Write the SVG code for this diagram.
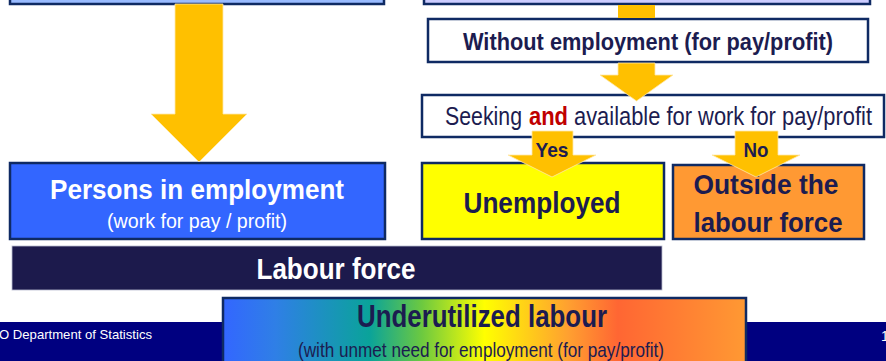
<svg xmlns="http://www.w3.org/2000/svg" width="886" height="361" viewBox="0 0 886 361">
<style>
.box{stroke:#0f2a63;stroke-width:2.5}
.t{font-family:"Liberation Sans",Arial,sans-serif;text-anchor:middle}
.s{font-family:"Liberation Sans",Arial,sans-serif;text-anchor:start}
.b{font-weight:bold}
.dk{fill:#1c1c50}
.wh{fill:#ffffff}
.arr{fill:#ffc000;stroke:#ffe9a8;stroke-width:0.8}
</style>
<defs>
<linearGradient id="rainbow" x1="0" y1="0" x2="1" y2="0">
<stop offset="0" stop-color="#3366ff"/>
<stop offset="0.1" stop-color="#2f7fe6"/>
<stop offset="0.28" stop-color="#0aa39a"/>
<stop offset="0.38" stop-color="#6cc940"/>
<stop offset="0.5" stop-color="#ffff00"/>
<stop offset="0.66" stop-color="#ffa030"/>
<stop offset="0.755" stop-color="#ff6633"/>
<stop offset="1" stop-color="#ff9933"/>
</linearGradient>
</defs>
<rect width="886" height="361" fill="#ffffff"/>
<g id="top-left"><rect class="box" x="10" y="-20" width="374" height="24" fill="#99bbff"/></g>
<g id="top-right"><rect class="box" x="424" y="-20" width="446" height="24" fill="#ccccff"/></g>
<g id="without"><rect class="box" x="428" y="19" width="440" height="43" fill="#ffffff"/>
<text class="t b dk" x="648" y="50" font-size="24.5" textLength="370" lengthAdjust="spacingAndGlyphs">Without employment (for pay/profit)</text></g>
<g id="seeking"><rect class="box" x="422" y="95" width="462" height="42" fill="#ffffff"/>
<g transform="translate(0,125) scale(1,1.19)">
<text class="s dk" x="445" y="0" font-size="21" textLength="77" lengthAdjust="spacingAndGlyphs">Seeking</text>
<text class="s b" x="529" y="0" font-size="21" fill="#c00000" textLength="39" lengthAdjust="spacingAndGlyphs">and</text>
<text class="s dk" x="574" y="0" font-size="21" textLength="298" lengthAdjust="spacingAndGlyphs">available for work for pay/profit</text>
</g></g>
<g id="unemployed"><rect class="box" x="422" y="163" width="242" height="76" fill="#ffff00"/>
<text class="t b dk" x="542" y="213" font-size="30" textLength="157" lengthAdjust="spacingAndGlyphs">Unemployed</text></g>
<g id="outside"><rect class="box" x="673" y="165" width="191" height="74" fill="#ff9933"/>
<text class="t b dk" x="766" y="194" font-size="28" textLength="145" lengthAdjust="spacingAndGlyphs">Outside the</text>
<text class="t b dk" x="768" y="232" font-size="28" textLength="149" lengthAdjust="spacingAndGlyphs">labour force</text></g>
<g id="employed"><rect class="box" x="10" y="163" width="375" height="76" fill="#3366ff"/>
<text class="t b wh" x="197" y="199" font-size="28" textLength="294" lengthAdjust="spacingAndGlyphs">Persons in employment</text>
<text class="t wh" x="197" y="228" font-size="20" textLength="180" lengthAdjust="spacingAndGlyphs">(work for pay / profit)</text></g>
<g id="labour-force"><rect x="12" y="246" width="650" height="44" fill="#1c1a4c" stroke="#b8bccf" stroke-width="0.8"/>
<text class="t b wh" x="336" y="279" font-size="29" textLength="159" lengthAdjust="spacingAndGlyphs">Labour force</text></g>
<g id="footer"><rect x="0" y="322" width="886" height="39" fill="#000080"/>
<text x="-1" y="339" font-family="Liberation Sans,Arial,sans-serif" font-size="13" fill="#ffffff" textLength="153" lengthAdjust="spacingAndGlyphs">O Department of Statistics</text>
<text x="881" y="341" font-family="Liberation Sans,Arial,sans-serif" font-size="14" fill="#ffffff">1</text></g>
<g id="underutilized"><rect class="box" x="223" y="298" width="523" height="70" fill="url(#rainbow)"/>
<text class="t b dk" x="482" y="327" font-size="31" textLength="250" lengthAdjust="spacingAndGlyphs">Underutilized labour</text>
<text class="t dk" x="481" y="357" font-size="21" textLength="366" lengthAdjust="spacingAndGlyphs">(with unmet need for employment (for pay/profit)</text></g>
<g id="connectors">
<polygon class="arr" points="175,4 223,4 223,114 247,114 199,162 151,114 175,114"/>
<rect x="618" y="5" width="37" height="13" fill="#ffc000"/>
<polygon class="arr" points="618,63 655,63 655,75 673,75 636.5,101 600,75 618,75"/>
<polygon class="arr" points="532,131 573,131 573,155 596,155 552,177 508,155 532,155"/>
<polygon class="arr" points="735,131 778,131 778,155 800,155 756,177 712,155 735,155"/>
<text class="t b dk" x="552" y="157" font-size="21" textLength="33" lengthAdjust="spacingAndGlyphs">Yes</text>
<text class="t b dk" x="756" y="157" font-size="21" textLength="25" lengthAdjust="spacingAndGlyphs">No</text>
</g>
</svg>
